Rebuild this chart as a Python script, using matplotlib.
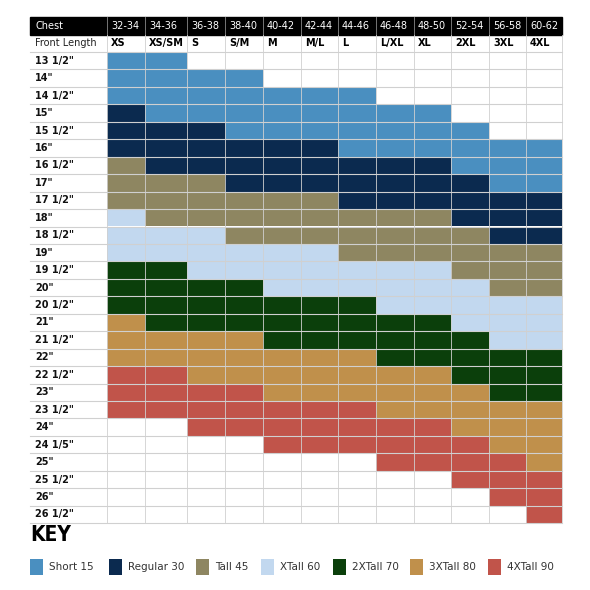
import matplotlib.pyplot as plt
from matplotlib.patches import Rectangle

# Data
chest = ["32-34", "34-36", "36-38", "38-40", "40-42", "42-44", "44-46",
         "46-48", "48-50", "52-54", "56-58", "60-62"]
sizes = ["XS", "XS/SM", "S", "S/M", "M", "M/L", "L", "L/XL", "XL", "2XL", "3XL", "4XL"]
lengths = ['13 1/2"', '14"', '14 1/2"', '15"', '15 1/2"', '16"', '16 1/2"', '17"',
           '17 1/2"', '18"', '18 1/2"', '19"', '19 1/2"', '20"', '20 1/2"', '21"',
           '21 1/2"', '22"', '22 1/2"', '23"', '23 1/2"', '24"', '24 1/5"', '25"',
           '25 1/2"', '26"', '26 1/2"']
fits = ["Short 15", "Regular 30", "Tall 45", "XTall 60", "2XTall 70", "3XTall 80", "4XTall 90"]
fit_colors = ["#4a8fc0", "#0b2a4f", "#8e8661", "#c2d8ef", "#0b3f0b", "#c0904b", "#c1544a"]
# first length row of each fit per chest column (last entry = end of 4XTall)
fit_starts = [
    [0, 3, 6, 9, 12, 15, 18, 21],
    [0, 4, 7, 10, 12, 16, 18, 21],
    [1, 4, 7, 10, 13, 16, 19, 22],
    [1, 5, 8, 11, 13, 16, 19, 22],
    [2, 5, 8, 11, 14, 17, 20, 23],
    [2, 5, 8, 11, 14, 17, 20, 23],
    [2, 6, 9, 12, 14, 17, 20, 23],
    [3, 6, 9, 12, 15, 18, 21, 24],
    [3, 6, 9, 12, 15, 18, 21, 24],
    [4, 7, 10, 13, 16, 19, 22, 25],
    [5, 8, 11, 14, 17, 20, 23, 26],
    [5, 8, 11, 14, 17, 20, 24, 27],
]

# layout (pixel-like units)
col_edges = [30, 107, 145, 187, 225, 263, 301, 338, 376, 414, 451, 489, 526, 562]
top, hdr_h, row_h = 17, 17.5, 17.45
data_top = top + 2 * hdr_h

fig = plt.figure(figsize=(5.9, 5.9), dpi=100)
ax = fig.add_axes([0, 0, 1, 1])
ax.set_xlim(0, 590)
ax.set_ylim(590, 0)
ax.axis("off")

# header
ax.add_patch(Rectangle((col_edges[0], top), col_edges[-1] - col_edges[0], hdr_h,
                       color="black"))
ax.text(col_edges[0] + 5, top + hdr_h / 2, "Chest", color="white", va="center", fontsize=7)
ax.text(col_edges[0] + 5, top + 1.5 * hdr_h, "Front Length", color="#222", va="center",
        fontsize=7)
for j in range(12):
    x0 = col_edges[j + 1]
    ax.text(x0 + 4, top + hdr_h / 2, chest[j], color="white", va="center", fontsize=7)
    ax.text(x0 + 4, top + 1.5 * hdr_h, sizes[j], color="black", va="center", fontsize=7,
            fontweight="bold")
    ax.plot([x0, x0], [top, top + hdr_h], color="#888", lw=0.6)

# cells
for j, starts in enumerate(fit_starts):
    x0, x1 = col_edges[j + 1], col_edges[j + 2]
    for c in range(7):
        for r in range(starts[c], starts[c + 1]):
            ax.add_patch(Rectangle((x0, data_top + r * row_h), x1 - x0, row_h,
                                   color=fit_colors[c], lw=0))

# grid
bottom = data_top + len(lengths) * row_h
for i in range(len(lengths) + 1):
    y = data_top + i * row_h
    ax.plot([col_edges[0], col_edges[-1]], [y, y], color="#d0d0d0", lw=0.8)
for x in col_edges[1:]:
    ax.plot([x, x], [top + hdr_h, bottom], color="#d0d0d0", lw=0.6)
for i, lab in enumerate(lengths):
    ax.text(col_edges[0] + 5, data_top + (i + 0.5) * row_h, lab, va="center",
            fontsize=7, fontweight="bold", color="#111")

# key
ax.text(30, bottom + 12, "KEY", fontsize=15, fontweight="bold", va="center",
        fontstretch="condensed", family="DejaVu Sans")
key_x = [30, 109, 196, 261, 333, 410, 488]
for k in range(7):
    ax.add_patch(Rectangle((key_x[k], 559), 13, 16, color=fit_colors[k], lw=0))
    ax.text(key_x[k] + 19, 567, fits[k], va="center", fontsize=7.5, color="#333")

fig.savefig("out.png", dpi=100)
